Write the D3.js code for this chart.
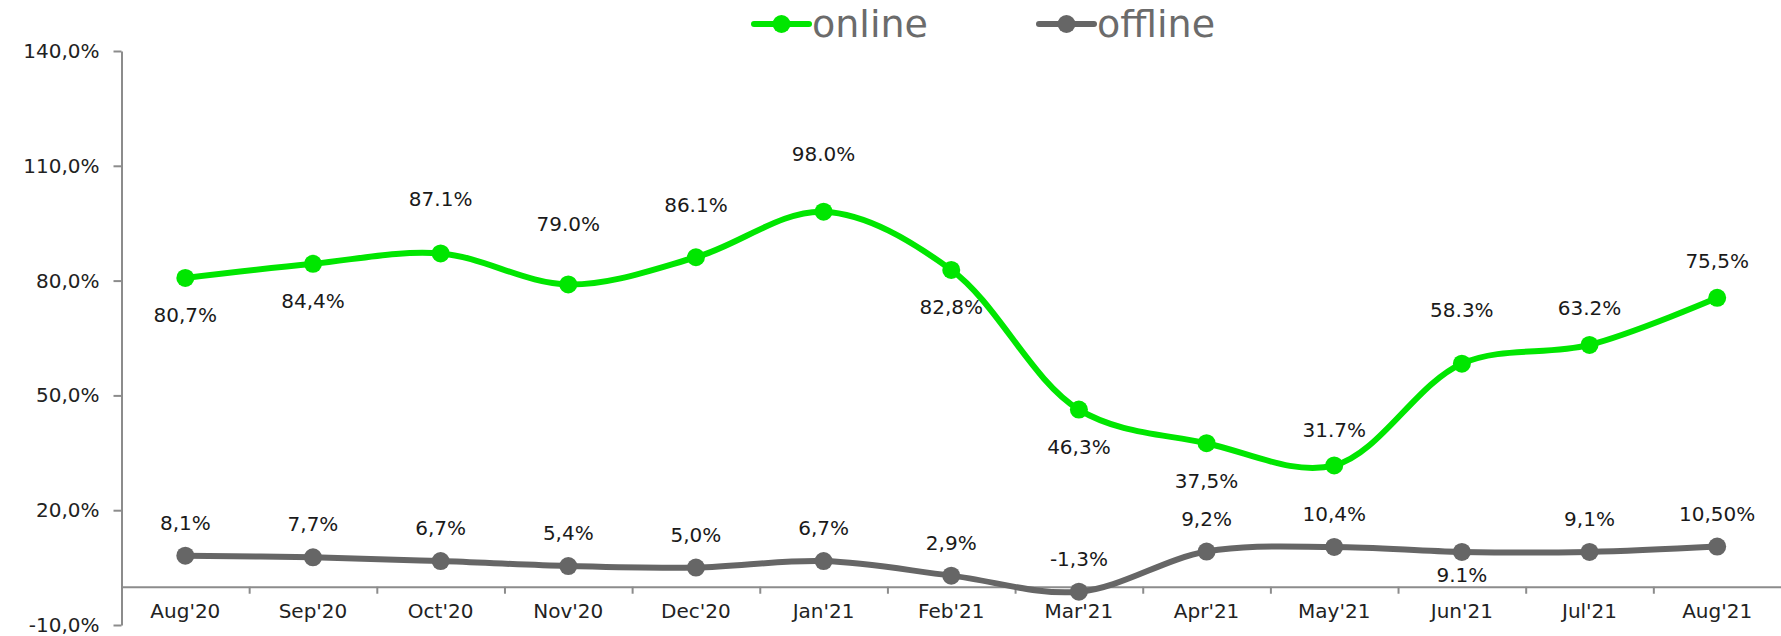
<!DOCTYPE html>
<html>
<head>
<meta charset="utf-8">
<script src="https://cdn.jsdelivr.net/npm/d3@7"></script>
<style>
  body { margin: 0; background: #fff; }
  svg text { font-family: "DejaVu Sans", sans-serif; }
</style>
</head>
<body>
<svg id="chart"></svg>
<script>
// data
const months = ["Aug'20", "Sep'20", "Oct'20", "Nov'20", "Dec'20", "Jan'21", "Feb'21",
    "Mar'21", "Apr'21", "May'21", "Jun'21", "Jul'21", "Aug'21"]
const online = [80.7, 84.4, 87.1, 79.0, 86.1, 98.0, 82.8, 46.3, 37.5, 31.7, 58.3, 63.2, 75.5]
const onlineLabels = ['80,7%', '84,4%', '87.1%', '79.0%', '86.1%', '98.0%', '82,8%',
    '46,3%', '37,5%', '31.7%', '58.3%', '63.2%', '75,5%']
const offline = [8.1, 7.7, 6.7, 5.4, 5.0, 6.7, 2.9, -1.3, 9.2, 10.4, 9.1, 9.1, 10.5]
const offlineLabels = ['8,1%', '7,7%', '6,7%', '5,4%', '5,0%', '6,7%', '2,9%',
    '-1,3%', '9,2%', '10,4%', '9.1%', '9,1%', '10,50%']
const yTicks = [-10, 20, 50, 80, 110, 140]
const yTickLabels = ['-10,0%', '20,0%', '50,0%', '80,0%', '110,0%', '140,0%']
const seriesNames = ['online', 'offline']

// label placement (pixel offsets from the point, negative = above)
const onlineLabelDy = [37, 37, -54, -60, -52, -58, 37, 37, 38, -35, -54, -37, -37]
const offlineLabelDy = [-33, -33, -33, -33, -33, -33, -33, -33, -33, -33, 23, -33, -33]

let size = {width: 1781, height: 636}
let margin = {top: 51, right: 0, bottom: 11, left: 121.5}

const colors = {online: '#00e600', offline: '#666666'}
const axisColor = '#8c8c8c'

const svg = d3.select('#chart')
    .attr('width', size.width)
    .attr('height', size.height)

const xBand = d3.scaleBand()
    .domain(months)
    .range([margin.left, size.width])
    .padding(0)

const xEdge = d3.scaleLinear()
    .domain([0, months.length])
    .range([margin.left, size.width])

const yScale = d3.scaleLinear()
    .domain([-10, 140])
    .range([size.height - margin.bottom, margin.top])

const xCenter = (d, i) => xBand(months[i]) + xBand.bandwidth() / 2

// y axis
const yAxisG = svg.append('g')
    .attr('transform', `translate(${margin.left},0)`)
    .call(d3.axisLeft(yScale)
        .tickValues(yTicks)
        .tickFormat((d, i) => yTickLabels[i])
        .tickSize(8)
        .tickSizeOuter(0)
        .tickPadding(14))
yAxisG.select('.domain').attr('stroke', axisColor).attr('stroke-width', 2)
yAxisG.selectAll('.tick line').attr('stroke', axisColor).attr('stroke-width', 2)
yAxisG.selectAll('.tick text')
    .attr('font-size', 20)
    .attr('fill', '#222')

// x axis at zero
const y0 = yScale(0)
const xTickG = svg.append('g')
    .attr('transform', `translate(0,${y0})`)
    .call(d3.axisBottom(xEdge)
        .tickValues(d3.range(1, months.length))
        .tickFormat('')
        .tickSize(7)
        .tickSizeOuter(0))
xTickG.select('.domain').attr('stroke', axisColor).attr('stroke-width', 2)
xTickG.selectAll('.tick line').attr('stroke', axisColor).attr('stroke-width', 2)

const xLabelG = svg.append('g')
    .attr('transform', `translate(0,${y0})`)
    .call(d3.axisBottom(xBand).tickSize(0).tickPadding(17))
xLabelG.select('.domain').remove()
xLabelG.selectAll('.tick text')
    .attr('font-size', 20)
    .attr('fill', '#222')

// lines
const line = d3.line()
    .x(xCenter)
    .y(d => yScale(d))
    .curve(d3.curveCatmullRom.alpha(0.5))

const drawSeries = function (values, labels, dys, color) {
    svg.append('path')
        .datum(values)
        .attr('d', line)
        .attr('fill', 'none')
        .attr('stroke', color)
        .attr('stroke-width', 6)
        .attr('stroke-linejoin', 'round')

    svg.append('g').selectAll('circle')
        .data(values)
        .join('circle')
        .attr('cx', xCenter)
        .attr('cy', d => yScale(d))
        .attr('r', 9)
        .attr('fill', color)

    svg.append('g').selectAll('text')
        .data(values)
        .join('text')
        .attr('x', xCenter)
        .attr('y', (d, i) => yScale(d) + dys[i])
        .attr('dy', '0.35em')
        .attr('text-anchor', 'middle')
        .attr('font-size', 20)
        .attr('fill', '#1a1a1a')
        .text((d, i) => labels[i])
}

drawSeries(offline, offlineLabels, offlineLabelDy, colors.offline)
drawSeries(online, onlineLabels, onlineLabelDy, colors.online)

// legend
const legendX = [754, 1039]
const legend = svg.append('g')
seriesNames.forEach((name, i) => {
    const g = legend.append('g').attr('transform', `translate(${legendX[i]},24)`)
    g.append('line')
        .attr('x1', 0).attr('x2', 55)
        .attr('stroke', colors[name])
        .attr('stroke-width', 6)
        .attr('stroke-linecap', 'round')
    g.append('circle')
        .attr('cx', 27.5)
        .attr('r', 9)
        .attr('fill', colors[name])
    g.append('text')
        .attr('x', 58)
        .attr('dy', '0.35em')
        .attr('font-family', '"Open Sans", sans-serif')
        .attr('font-size', 38)
        .attr('fill', '#6b6b6b')
        .text(name)
})
</script>
</body>
</html>
